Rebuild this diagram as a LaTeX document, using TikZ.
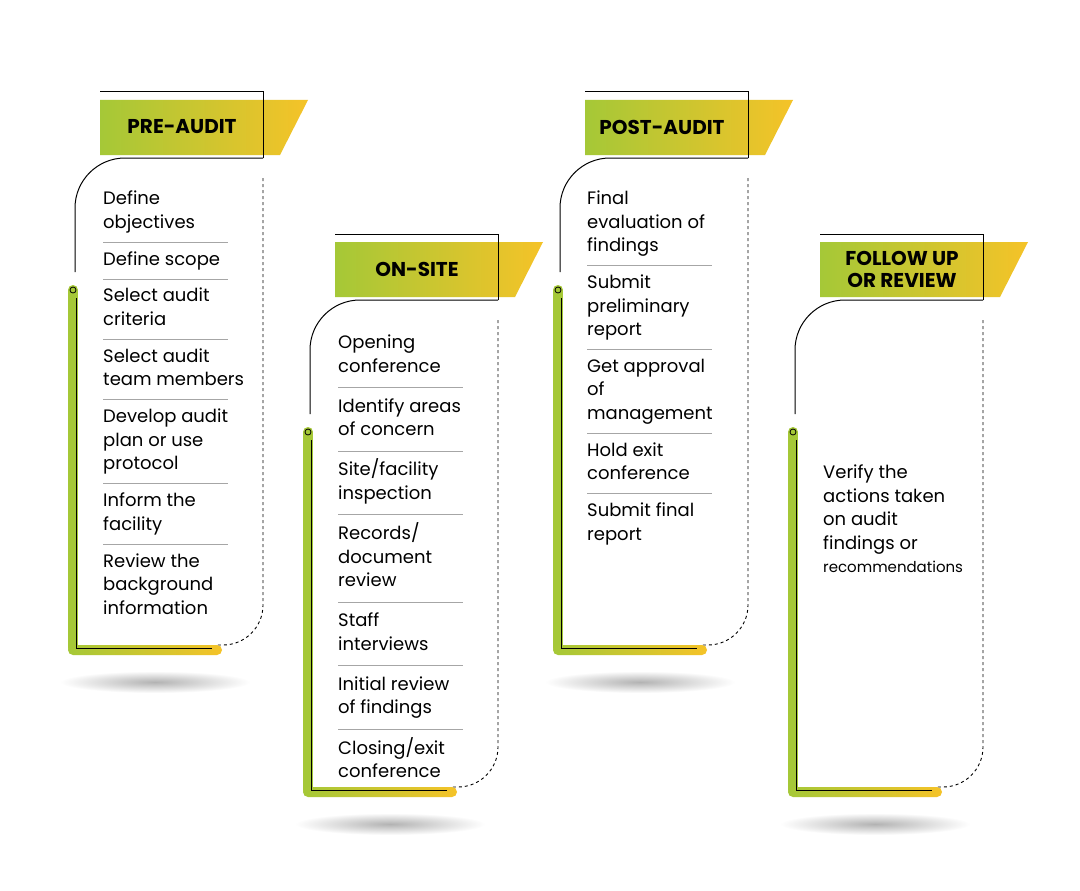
\documentclass[tikz,border=0pt]{standalone}
\usepackage{fontspec}
\setmainfont{Poppins}
\usetikzlibrary{positioning, calc}

\definecolor{lgreen}{RGB}{165,200,55}
\definecolor{lyellow}{RGB}{245,195,40}

\begin{document}
\begin{tikzpicture}[
    x=1pt, y=-1pt,
    item/.style={anchor=north west, inner sep=0pt, align=left,
        font=\fontsize{18}{23.5}\selectfont},
    sep/.style={black!35, line width=0.6pt},
    title/.style={font=\fontsize{20}{22}\selectfont\bfseries, align=center, inner sep=0pt}
]
    \useasboundingbox[fill=white] (0,0) rectangle (1080,891);

    % Frame of one stage, drawn in the local coordinates of its scope
    \tikzset{stageframe/.pic={
        \shade[inner color=black!30, outer color=white] (155,682) ellipse (95 and 11);
        \shade[left color=lgreen, right color=lyellow] (100,100) -- (308,100) -- (280,155) -- (100,155) -- cycle;
        \draw[line width=1pt] (100,92) -- (263,92) -- (263,158);
        \draw[line width=1pt, rounded corners=50] (263,158) -- (75,158) -- (75,272);
        \draw[dashed, line width=0.9pt, rounded corners=40] (263,178) -- (263,645) -- (215,645);
        \draw[line width=10pt, lgreen, line cap=round] (73,290) -- (73,648);
        \shade[left color=lgreen, right color=lyellow, rounded corners=5] (68,645) rectangle (222,655);
        \draw[line width=0.8pt] (76,298) -- (76,648) -- (212,648);
        \draw[line width=0.8pt, fill=lgreen] (73,290) circle (3);
    }}

    % Pre-audit
    \begin{scope}
        \pic {stageframe};
        \node[title] (pre) at (182,127) {PRE-AUDIT};
        \foreach \t [count=\i, remember=\i as \j (initially 0)] in
            {{Define\\objectives}, {Define scope}, {Select audit\\criteria},
             {Select audit\\team members}, {Develop audit\\plan or use\\protocol},
             {Inform the\\facility}, {Review the\\background\\information}}{
            \ifnum\i=1
                \node[item] (pre-\i) at (103,188) {\strut\t\strut};
            \else
                \node[item, below=13pt of pre-\j.south west, anchor=north west] (pre-\i) {\strut\t\strut};
                \draw[sep] ([yshift=6.5pt]pre-\i.north west) -- ++(125,0);
            \fi
        }
    \end{scope}

    % On-site
    \begin{scope}[shift={(235,142)}]
        \pic {stageframe};
        \node[title] (on) at (182,127) {ON-SITE};
        \foreach \t [count=\i, remember=\i as \j (initially 0)] in
            {{Opening\\conference}, {Identify areas\\of concern}, {Site/facility\\inspection},
             {Records/\\document\\review}, {Staff\\interviews}, {Initial review\\of findings},
             {Closing/exit\\conference}}{
            \ifnum\i=1
                \node[item] (on-\i) at (103,190) {\strut\t\strut};
            \else
                \node[item, below=16pt of on-\j.south west, anchor=north west] (on-\i) {\strut\t\strut};
                \draw[sep] ([yshift=8pt]on-\i.north west) -- ++(125,0);
            \fi
        }
    \end{scope}

    % Post-audit
    \begin{scope}[shift={(485,0)}]
        \pic {stageframe};
        \node[title] (post) at (177,127) {POST-AUDIT};
        \foreach \t [count=\i, remember=\i as \j (initially 0)] in
            {{Final\\evaluation of\\findings}, {Submit\\preliminary\\report},
             {Get approval\\of\\management}, {Hold exit\\conference}, {Submit final\\report}}{
            \ifnum\i=1
                \node[item] (post-\i) at (102,188) {\strut\t\strut};
            \else
                \node[item, below=13pt of post-\j.south west, anchor=north west] (post-\i) {\strut\t\strut};
                \draw[sep] ([yshift=6.5pt]post-\i.north west) -- ++(125,0);
            \fi
        }
    \end{scope}

    % Follow up or review
    \begin{scope}[shift={(720,142)}]
        \pic {stageframe};
        \node[title] (follow) at (182,127) {FOLLOW UP\\OR REVIEW};
        \node[item] (follow-1) at (103,320)
            {\strut Verify the\\actions taken\\on audit\\findings or\\{\fontsize{15}{23.5}\selectfont recommendations}};
    \end{scope}
\end{tikzpicture}
\end{document}
